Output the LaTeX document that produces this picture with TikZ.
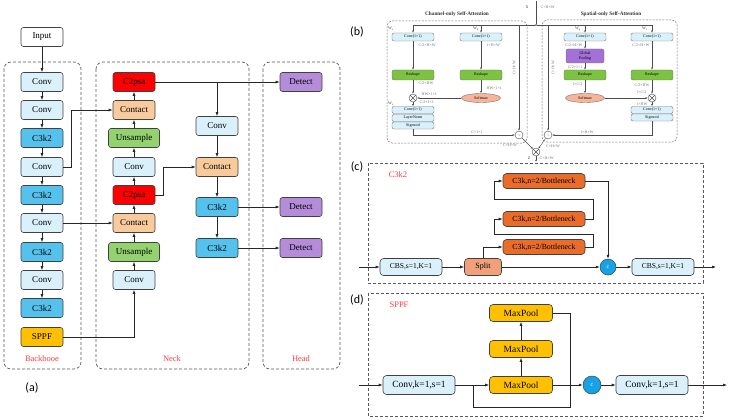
\documentclass[tikz,border=0pt]{standalone}
\usepackage{fontspec}
\setmainfont{Liberation Serif}
\newfontfamily\labfont{Carlito}
\usetikzlibrary{arrows.meta,shapes.geometric,calc}
\definecolor{cvb}{HTML}{DAF1FB}
\definecolor{cthree}{HTML}{55C2EE}
\definecolor{ctwo}{HTML}{FF0000}
\definecolor{cpe}{HTML}{F9CB9C}
\definecolor{cgr}{HTML}{93D26F}
\definecolor{cpu}{HTML}{B48CDA}
\definecolor{cye}{HTML}{FFC000}
\definecolor{cor}{HTML}{E96C28}
\definecolor{csp}{HTML}{F0A07A}
\definecolor{ccir}{HTML}{16A3E6}
\definecolor{crs}{HTML}{7DC242}
\definecolor{cgp}{HTML}{A370D8}
\definecolor{csm}{HTML}{F6B49A}
\definecolor{lred}{HTML}{FF3B3B}
\begin{document}
\begin{tikzpicture}[x=1pt,y=-1pt,
  blk/.style={draw=black!75, rounded corners=2.5pt, minimum height=19pt, minimum width=42pt, inner sep=0pt, line width=0.6pt, font=\fontsize{9}{10}\selectfont},
  arr/.style={-{Latex[length=4pt,width=3pt]}, line width=0.6pt, draw=black!85},
  ln/.style={line width=0.6pt, draw=black!85},
  dbox/.style={draw=black!65, dashed, dash pattern=on 3pt off 2pt, rounded corners=7pt, line width=0.7pt},
  sect/.style={text=lred, font=\fontsize{8.5}{10}\selectfont},
  plab/.style={font=\labfont\fontsize{12}{14}\selectfont},
  sb/.style={draw=black!55, rounded corners=2pt, minimum width=42pt, minimum height=8pt, inner sep=0pt, line width=0.4pt, font=\fontsize{4}{4.5}\selectfont},
  sarr/.style={-{Latex[length=2.2pt,width=1.8pt]}, line width=0.4pt, draw=black!70},
  sln/.style={line width=0.4pt, draw=black!70},
  tl/.style={font=\fontsize{4}{4.5}\selectfont, text=black!55, inner sep=0.5pt},
  sdbox/.style={draw=black!55, dashed, dash pattern=on 2pt off 1.3pt, rounded corners=5pt, line width=0.5pt},
  op/.style={circle, draw=black!70, fill=white, minimum size=8pt, inner sep=0pt, line width=0.4pt},
  cbox/.style={draw=black!75, rounded corners=3.5pt, minimum height=17pt, inner sep=0pt, line width=0.6pt},
  ccirc/.style={circle, draw=black!75, fill=ccir, minimum size=16pt, inner sep=0pt, line width=0.5pt, font=\fontsize{6}{7}\selectfont, text=white}
]
\useasboundingbox (0,0) rectangle (731,420);

% ================= Panel (a) =================
\draw[dbox] (4,62) rectangle (81,369);
\draw[dbox] (96,62) rectangle (249,369);
\draw[dbox] (263,62) rectangle (340,369);
\node[sect] at (42,359) {Backbooe};
\node[sect] at (172,359) {Neck};
\node[sect] at (301,359) {Head};
\node[plab] at (32,388) {(a)};

\node[blk, fill=white] (in) at (42,37) {Input};
\node[blk, fill=cvb] (b1) at (42,82) {Conv};
\node[blk, fill=cvb] (b2) at (42,110) {Conv};
\node[blk, fill=cthree] (b3) at (42,138) {C3k2};
\node[blk, fill=cvb] (b4) at (42,167) {Conv};
\node[blk, fill=cthree] (b5) at (42,195) {C3k2};
\node[blk, fill=cvb] (b6) at (42,223) {Conv};
\node[blk, fill=cthree] (b7) at (42,252) {C3k2};
\node[blk, fill=cvb] (b8) at (42,280) {Conv};
\node[blk, fill=cthree] (b9) at (42,308) {C3k2};
\node[blk, fill=cye] (b10) at (42,337) {SPPF};

\node[blk, fill=ctwo] (n1) at (134,82) {C2psa};
\node[blk, fill=cpe] (n2) at (134,110) {Contact};
\node[blk, fill=cgr, minimum width=51pt] (n3) at (134,138) {Unsample};
\node[blk, fill=cvb] (n4) at (134,167) {Conv};
\node[blk, fill=ctwo] (n5) at (134,195) {C2psa};
\node[blk, fill=cpe] (n6) at (134,223) {Contact};
\node[blk, fill=cgr, minimum width=51pt] (n7) at (134,252) {Unsample};
\node[blk, fill=cvb] (n8) at (134,280) {Conv};

\node[blk, fill=cvb] (m1) at (217,126) {Conv};
\node[blk, fill=cpe] (m2) at (217,167) {Contact};
\node[blk, fill=cthree] (m3) at (217,207) {C3k2};
\node[blk, fill=cthree] (m4) at (217,248) {C3k2};

\node[blk, fill=cpu] (d1) at (301,82) {Detect};
\node[blk, fill=cpu] (d2) at (301,207) {Detect};
\node[blk, fill=cpu] (d3) at (301,248) {Detect};

\draw[arr] (in) -- (b1);
\draw[arr] (b1) -- (b2);
\draw[arr] (b2) -- (b3);
\draw[arr] (b3) -- (b4);
\draw[arr] (b4) -- (b5);
\draw[arr] (b5) -- (b6);
\draw[arr] (b6) -- (b7);
\draw[arr] (b7) -- (b8);
\draw[arr] (b8) -- (b9);
\draw[arr] (b4.east) -- ++(8,0) |- (n2.west);
\draw[arr] (b6) -- (n6);
\draw[arr] (b10.east) -| (n8.south);
\draw[arr] (n8) -- (n7);
\draw[arr] (n7) -- (n6);
\draw[arr] (n6) -- (n5);
\draw[arr] (n5) -- (n4);
\draw[arr] (n4) -- (n3);
\draw[arr] (n3) -- (n2);
\draw[arr] (n2) -- (n1);
\draw[arr] (n5.east) -- ++(8,0) |- (m2.west);
\draw[arr] (n1) -- (d1);
\draw[arr] (m1.north |- n1) -- (m1.north);
\draw[arr] (m1) -- (m2);
\draw[arr] (m2) -- (m3);
\draw[arr] (m3) -- (m4);
\draw[arr] (m3) -- (d2);
\draw[arr] (m4) -- (d3);

% ================= Panel (b) =================
\node[plab] at (357,32) {(b)};
\draw[sdbox] (387,21) rectangle (527,143);
\draw[sdbox] (542,20) rectangle (677,142);
\node[font=\bfseries\fontsize{5.3}{6}\selectfont, text=black!80] at (457,14) {Channel-only Self-Attention};
\node[font=\bfseries\fontsize{5.3}{6}\selectfont, text=black!80] at (611,14) {Spatial-only Self-Attention};

\coordinate (xin) at (536,1);
\coordinate (J) at (536,25);
\node[tl, text=black!80] at (527,7) {X};
\node[tl, anchor=west] at (540,7) {C×H×W};

% channel branch
\node[sb, fill=cvb] (cq1) at (413,37) {Conv(1×1)};
\node[sb, fill=cvb] (cq2) at (481,37) {Conv(1×1)};
\node[sb, fill=crs, minimum height=10pt] (cr1) at (413,75) {Reshape};
\node[sb, fill=crs, minimum height=10pt] (cr2) at (481,75) {Reshape};
\node[op] (cm) at (413,98) {};
\draw[sln] (cm.north west) -- (cm.south east) (cm.north east) -- (cm.south west);
\node[ellipse, draw=black!55, fill=csm, minimum width=39pt, minimum height=9pt, inner sep=0pt, line width=0.4pt, font=\fontsize{4}{4.5}\selectfont] (csm) at (481,98) {Softmax};
\node[sb, fill=cvb, minimum height=7pt] (cz1) at (413,110) {Conv(1×1)};
\node[sb, fill=cvb, minimum height=7pt] (cz2) at (413,118) {LayerNorm};
\node[sb, fill=cvb, minimum height=7pt] (cz3) at (413,125.5) {Sigmoid};
\node[op] (cdot) at (519,135) {};
\fill[black!70] (cdot) circle (0.5pt);

% spatial branch
\node[sb, fill=cvb] (sq1) at (585,37) {Conv(1×1)};
\node[sb, fill=cgp, minimum width=38pt, minimum height=14pt, align=center] (sgp) at (585,56) {Global\\Pooling};
\node[sb, fill=crs, minimum height=10pt] (sr1) at (585,75) {Reshape};
\node[ellipse, draw=black!55, fill=csm, minimum width=39pt, minimum height=9pt, inner sep=0pt, line width=0.4pt, font=\fontsize{4}{4.5}\selectfont] (ssm) at (585,98) {Softmax};
\node[sb, fill=cvb] (sv1) at (652,37) {Conv(1×1)};
\node[sb, fill=crs, minimum height=10pt] (sr2) at (652,75) {Reshape};
\node[op] (sm) at (652,98) {};
\draw[sln] (sm.north west) -- (sm.south east) (sm.north east) -- (sm.south west);
\node[sb, fill=cvb, minimum height=7pt] (sz1) at (652,110) {Conv(1×1)};
\node[sb, fill=cvb, minimum height=7pt] (sz2) at (652,117.5) {Sigmoid};
\node[op] (sdot) at (548,135) {};
\fill[black!70] (sdot) circle (0.5pt);

\node[op] (out) at (536,152) {};
\draw[sln] (out.north west) -- (out.south east) (out.north east) -- (out.south west);
\coordinate (zout) at (536,162);

% top distribution
\draw[sln] (xin) -- (J);
\draw[sarr] (J) -| (cq1.north);
\draw[sarr] (cq2.north |- J) -- (cq2.north);
\draw[sarr] (cdot.north |- J) -- (cdot.north);
\draw[sarr] (J) -| (sv1.north);
\draw[sarr] (sq1.north |- J) -- (sq1.north);
\draw[sarr] (sdot.north |- J) -- (sdot.north);
\fill[white, draw=black!70, line width=0.3pt] (J) circle (1pt);

% channel flow
\draw[sarr] (cq1) -- (cr1);
\draw[sarr] (cr1) -- (cm);
\draw[sarr] (cm) -- (cz1);
\draw[sarr] (cq2) -- (cr2);
\draw[sarr] (cr2) -- (csm);
\draw[sarr] (csm) -- (cm);
\draw[sarr] (cz3.south) |- (cdot.west);
% spatial flow
\draw[sarr] (sq1) -- (sgp);
\draw[sarr] (sgp) -- (sr1);
\draw[sarr] (sr1) -- (ssm);
\draw[sarr] (ssm) -- (sm);
\draw[sarr] (sv1) -- (sr2);
\draw[sarr] (sr2) -- (sm);
\draw[sarr] (sm) -- (sz1);
\draw[sarr] (sz2.south) |- (sdot.east);
% fusion
\draw[sarr] (cdot) -- (out);
\draw[sarr] (sdot) -- (out);
\draw[sarr] (out) -- (zout);

% labels (b)
\node[tl, text=black!75] at (391,29) {W$_\mathrm{v}$};
\node[tl, text=black!75] at (476,29) {W$_\mathrm{q}$};
\node[tl, text=black!75] at (391,104) {W$_\mathrm{z}$};
\node[tl, anchor=west] at (418,45) {C/2×H×W};
\node[tl, anchor=west] at (486,45) {1×H×W};
\node[tl, anchor=west] at (418,83) {C/2×HW};
\node[tl, anchor=west] at (486,88) {HW×1×1};
\node[tl, anchor=west] at (421,94) {HW×1×1};
\node[tl, anchor=west] at (419,102) {C/2×1×1};
\node[tl] at (477,132) {C×1×1};
\node[tl, rotate=90] at (514,68) {C×H×W};
\node[tl] at (510,145) {C×H×W};
\node[tl, text=black!75] at (578,29) {W$_\mathrm{q}$};
\node[tl, text=black!75] at (645,29) {W$_\mathrm{v}$};
\node[tl, anchor=east] at (583,45) {C/2×H×W};
\node[tl, anchor=east] at (583,67) {C/2×1×1};
\node[tl, anchor=east] at (583,84) {1×C/2};
\node[tl, anchor=east] at (650,45) {C/2×H×W};
\node[tl, anchor=east] at (650,85) {C/2×HW};
\node[tl, anchor=east] at (647,92) {1×C/2};
\node[tl, anchor=east] at (648,104) {1×HW};
\node[tl] at (587,132) {1×H×W};
\node[tl, rotate=90] at (553,68) {C×H×W};
\node[tl] at (553,146) {C×H×W};
\node[tl, text=black!80] at (529,158) {Z};
\node[tl, anchor=west] at (539,158) {C×H×W};

% ================= Panel (c) =================
\node[plab] at (357,167) {(c)};
\draw[dbox, rounded corners=0pt] (368,163) rectangle (703,283);
\node[sect] at (398,175) {C3k2};
\coordinate (cin) at (359,267);
\coordinate (cout) at (716,267);
\node[cbox, fill=cvb, minimum width=62pt, font=\fontsize{7.5}{8}\selectfont] (cbs1) at (411,267) {CBS,s=1,K=1};
\node[cbox, fill=csp, minimum width=37pt, font=\fontsize{8}{9}\selectfont] (split) at (483,267) {Split};
\node[cbox, fill=cor, minimum width=82pt, minimum height=15pt, font=\fontsize{7.8}{8}\selectfont] (bn1) at (544,181) {C3k,n=2/Bottleneck};
\node[cbox, fill=cor, minimum width=82pt, minimum height=15pt, font=\fontsize{7.8}{8}\selectfont] (bn2) at (544,219) {C3k,n=2/Bottleneck};
\node[cbox, fill=cor, minimum width=82pt, minimum height=15pt, font=\fontsize{7.8}{8}\selectfont] (bn3) at (544,247) {C3k,n=2/Bottleneck};
\node[ccirc] (cc) at (608,267) {c};
\node[cbox, fill=cvb, minimum width=62pt, font=\fontsize{7.5}{8}\selectfont] (cbs2) at (663,267) {CBS,s=1,K=1};
\draw[arr] (cin) -- (cbs1);
\draw[arr] (cbs1) -- (split);
\draw[arr] (split) -- (cc);
\draw[arr] (cc) -- (cbs2);
\draw[arr] (cbs2) -- (cout);
\draw[arr] (split.north) |- (bn3.west);
\draw[arr] (bn3.east) -- ++(8,0) -- ++(0,-13) -| ([xshift=-8pt]bn2.west) -- (bn2.west);
\draw[arr] (bn2.east) -- ++(8,0) -- ++(0,-20) -| ([xshift=-8pt]bn1.west) -- (bn1.west);
\draw[arr] (bn1.east) -| (cc.north);

% ================= Panel (d) =================
\node[plab] at (357,300) {(d)};
\draw[dbox, rounded corners=0pt] (368,293) rectangle (703,416);
\node[sect] at (399,305) {SPPF};
\coordinate (din) at (359,385);
\coordinate (dout) at (727,385);
\node[cbox, fill=cvb, minimum width=72pt, minimum height=19pt, font=\fontsize{9.5}{10}\selectfont] (dc1) at (419,385) {Conv,k=1,s=1};
\node[cbox, fill=cye, minimum width=63pt, font=\fontsize{9.5}{10}\selectfont] (mp1) at (521,385) {MaxPool};
\node[cbox, fill=cye, minimum width=63pt, font=\fontsize{9.5}{10}\selectfont] (mp2) at (521,349) {MaxPool};
\node[cbox, fill=cye, minimum width=63pt, font=\fontsize{9.5}{10}\selectfont] (mp3) at (521,313) {MaxPool};
\node[ccirc, minimum size=18pt] (cc2) at (592,385) {c};
\node[cbox, fill=cvb, minimum width=72pt, minimum height=19pt, font=\fontsize{9.5}{10}\selectfont] (dc2) at (652,385) {Conv,k=1,s=1};
\coordinate (byp) at (473,385);
\coordinate (lowL) at (473,407);
\coordinate (lowR) at (570,407);
\draw[arr] (din) -- (dc1);
\draw[arr] (dc1) -- (mp1);
\draw[arr] (mp1) -- (mp2);
\draw[arr] (mp2) -- (mp3);
\draw[arr] (mp1) -- (cc2);
\draw[ln] (mp3.east) -| (lowR) -- (lowL) -- (byp);
\draw[arr] (cc2) -- (dc2);
\draw[arr] (dc2) -- (dout);
\end{tikzpicture}
\end{document}
